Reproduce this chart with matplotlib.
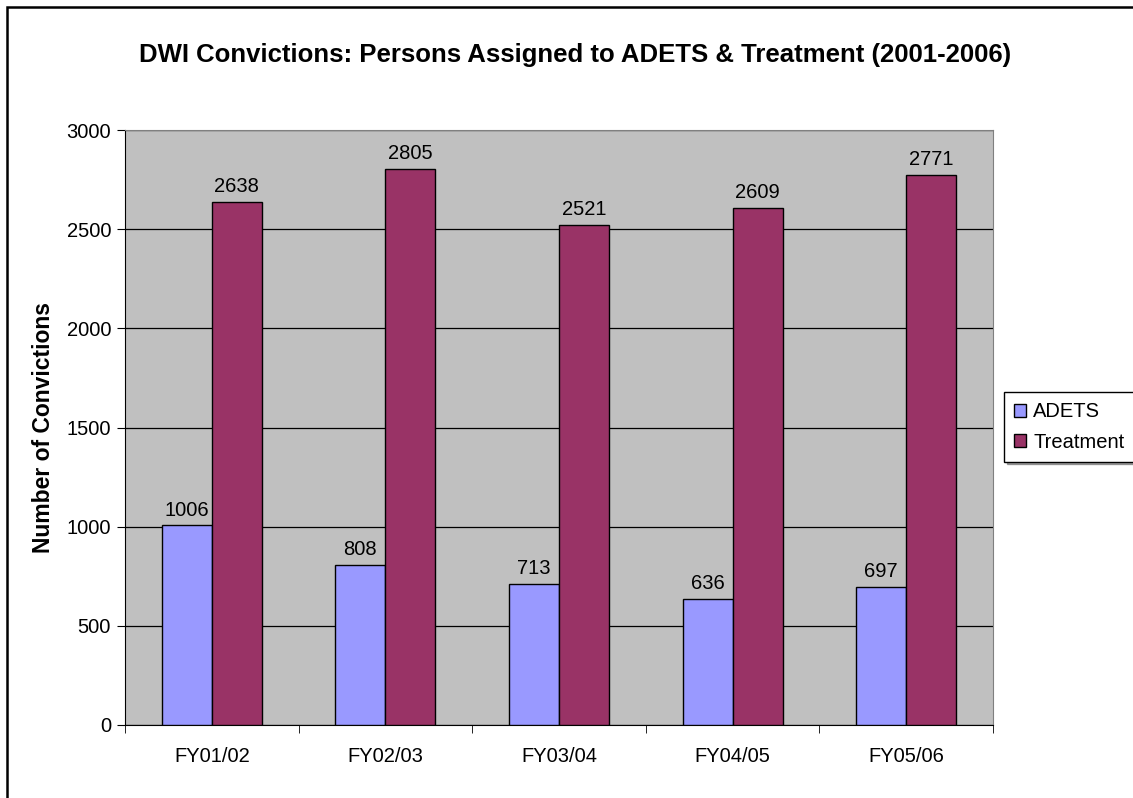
import matplotlib
matplotlib.use("Agg")
import matplotlib.pyplot as plt
from matplotlib.patches import Rectangle
import numpy as np

plt.rcParams["font.family"] = ["Liberation Sans", "DejaVu Sans"]

categories = ["FY01/02", "FY02/03", "FY03/04", "FY04/05", "FY05/06"]
adets = [1006, 808, 713, 636, 697]
treatment = [2638, 2805, 2521, 2609, 2771]
yticks = [0, 500, 1000, 1500, 2000, 2500, 3000]

ADETS_C = "#9999FF"
TREAT_C = "#993366"

fig = plt.figure(figsize=(11.33, 7.98), dpi=100)
ax = fig.add_axes([125 / 1133, 1 - 725 / 798, 868 / 1133, 595 / 798])
ax.set_facecolor("#C0C0C0")

x = np.arange(len(categories))
w = 0.288
b1 = ax.bar(x - w / 2, adets, w, color=ADETS_C, edgecolor="black", linewidth=1, zorder=3, label="ADETS")
b2 = ax.bar(x + w / 2, treatment, w, color=TREAT_C, edgecolor="black", linewidth=1, zorder=3, label="Treatment")
for bars in (b1, b2):
    for r in bars:
        ax.text(r.get_x() + r.get_width() / 2, r.get_height() + 30, f"{int(r.get_height())}",
                ha="center", va="bottom", fontsize=14.5)

ax.set_xlim(-0.5, len(categories) - 0.5)
ax.set_ylim(0, 3000)
ax.set_yticks(yticks)
ax.set_yticklabels([str(t) for t in yticks], fontsize=14.5)
ax.yaxis.grid(True, color="black", linewidth=0.9, zorder=1)
ax.set_axisbelow(True)

# category labels centred, tick marks on the boundaries
ax.set_xticks(x)
ax.set_xticklabels(categories, fontsize=14.5)
ax.tick_params(axis="x", length=0, pad=16)
ax.set_xticks(np.arange(-0.5, len(categories)), minor=True)
ax.tick_params(axis="x", which="minor", length=6, color="black")
ax.tick_params(axis="y", length=6, color="black", pad=4)

for side in ("top", "right"):
    ax.spines[side].set_color("#808080")
ax.spines["left"].set_color("black")
ax.spines["bottom"].set_color("black")

ax.set_ylabel("Number of Convictions", fontsize=16.5, fontweight="bold", labelpad=8)
fig.text(575 / 1133, 1 - 55 / 798, "DWI Convictions: Persons Assigned to ADETS & Treatment (2001-2006)",
         ha="center", va="center", fontsize=18.5, fontweight="bold")

leg = fig.legend(handles=[b1, b2], loc="center left", bbox_to_anchor=(1004 / 1133, 1 - 427 / 798),
                 fontsize=14.5, frameon=True, fancybox=False, edgecolor="black", shadow=True,
                 handlelength=0.6, handleheight=0.6, handletextpad=0.35, borderpad=0.5,
                 labelspacing=0.55, borderaxespad=0)
leg.get_frame().set_linewidth(1)

fig.patches.append(Rectangle((7 / 1133, -0.05), 1.2, 1.05 - 7 / 798, transform=fig.transFigure,
                             fill=False, edgecolor="black", linewidth=1.8))

fig.savefig("out.png")
